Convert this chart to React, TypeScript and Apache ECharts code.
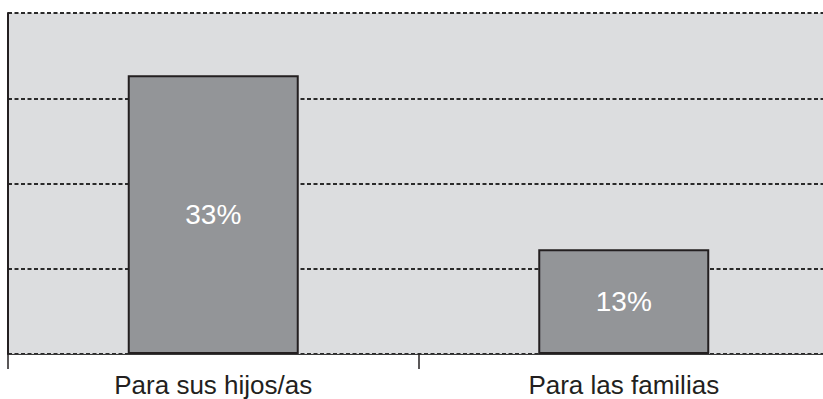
import React, { useEffect, useRef } from "react";
import * as echarts from "echarts";

const categories = ["Para sus hijos/as", "Para las familias"];
const values = [32.7, 12.3];
const valueLabels = ["33%", "13%"];
const yMin = 0;
const yMax = 40;
const yInterval = 10;

export default function App() {
  const ref = useRef<HTMLDivElement>(null);
  useEffect(() => {
    if (!ref.current) return;
    const chart = echarts.init(ref.current, null, { renderer: "svg" });
    chart.setOption({
      animation: false,
      backgroundColor: "#ffffff",
      grid: {
        left: 8,
        top: 13,
        bottom: 45,
        right: 0,
        show: true,
        backgroundColor: "#dcdddf",
        borderWidth: 0,
      },
      xAxis: {
        type: "category",
        data: categories,
        axisLine: { show: true, lineStyle: { color: "#3a3a3a", width: 1 } },
        axisTick: { show: true, length: 15, lineStyle: { color: "#231f20", width: 1.5 } },
        axisLabel: {
          color: "#231f20",
          fontSize: 26,
          fontFamily: "Liberation Sans, Arial, sans-serif",
          margin: 18,
        },
      },
      yAxis: {
        type: "value",
        min: yMin,
        max: yMax,
        interval: yInterval,
        axisLine: { show: true, lineStyle: { color: "#231f20", width: 2 } },
        axisTick: { show: false },
        axisLabel: { show: false },
        splitLine: {
          show: true,
          lineStyle: { color: "#2a2a2a", width: 2, type: [4, 2.5] },
        },
      },
      series: [
        {
          type: "bar",
          data: values,
          barWidth: 171,
          itemStyle: { color: "#939598", borderColor: "#231f20", borderWidth: 2 },
          label: {
            show: true,
            position: "inside",
            color: "#ffffff",
            fontSize: 28,
            fontFamily: "Liberation Sans, Arial, sans-serif",
            formatter: (p: any) => valueLabels[p.dataIndex],
          },
        },
      ],
    });
    return () => chart.dispose();
  }, []);
  return (
    <div style={{ position: "absolute", left: 0, top: 0, width: 823, height: 399, overflow: "hidden" }}>
      <div ref={ref} style={{ width: 829, height: 399 }} />
    </div>
  );
}
